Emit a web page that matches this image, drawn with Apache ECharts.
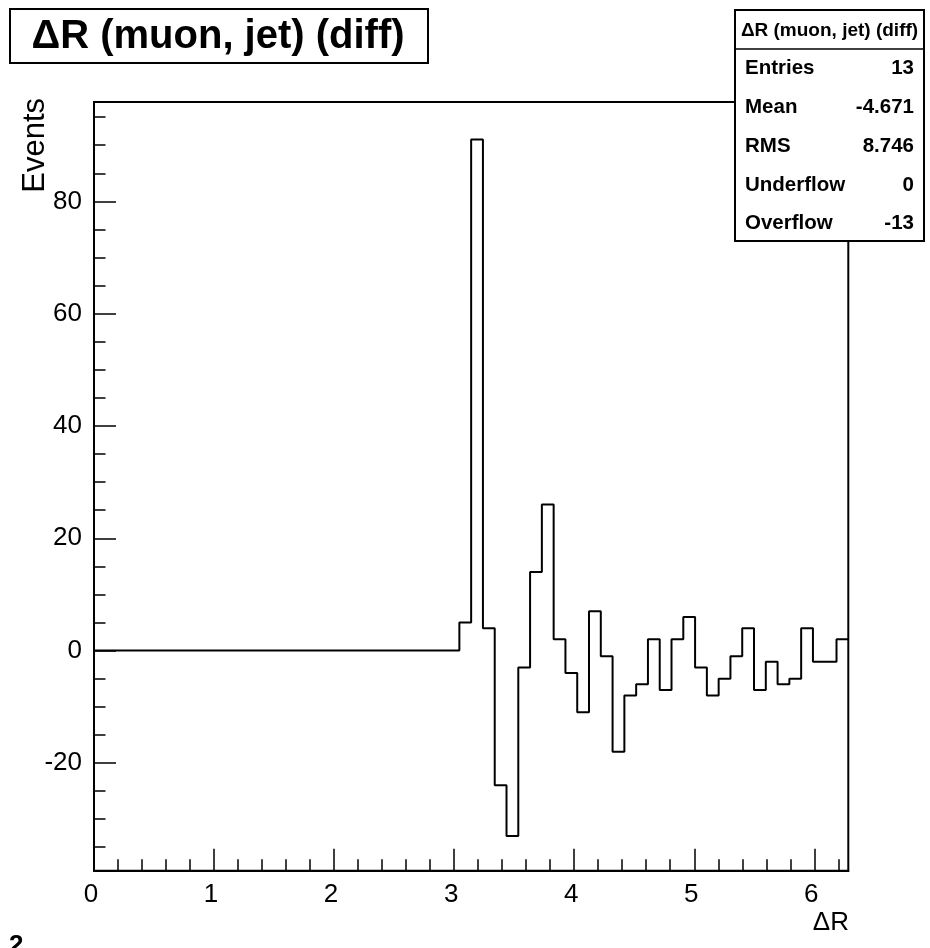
<!DOCTYPE html>
<html>
<head>
<meta charset="utf-8">
<script src="https://cdn.jsdelivr.net/npm/echarts@6/dist/echarts.min.js"></script>
<style>
  html, body { margin: 0; padding: 0; background: #ffffff; }
  #chart { width: 930px; height: 948px; }
</style>
</head>
<body>
<div id="chart"></div>
<script>
// histogram: 64 bins between 0 and 2*pi
var xMin = 0
var xMax = 2 * Math.PI
var binValues = [
  0, 0, 0, 0, 0, 0, 0, 0, 0, 0,
  0, 0, 0, 0, 0, 0, 0, 0, 0, 0,
  0, 0, 0, 0, 0, 0, 0, 0, 0, 0,
  0, 5, 91, 4, -24, -33, -3, 14, 26, 2,
  -4, -11, 7, -1, -18, -8, -6, 2, -7, 2,
  6, -3, -8, -5, -1, 4, -7, -2, -6, -5,
  4, -2, -2, 2
]
var yMin = -39.2
var yMax = 97.7

// tick labels
var xMajorTicks = [0, 1, 2, 3, 4, 5, 6]
var xMinorTicks = [0.2, 0.4, 0.6, 0.8, 1.2, 1.4, 1.6, 1.8, 2.2, 2.4, 2.6, 2.8,
  3.2, 3.4, 3.6, 3.8, 4.2, 4.4, 4.6, 4.8, 5.2, 5.4, 5.6, 5.8, 6.2]
var yMajorTicks = [-20, 0, 20, 40, 60, 80]
var yMinorTicks = [-35, -30, -25, -15, -10, -5, 5, 10, 15, 25, 30, 35,
  45, 50, 55, 65, 70, 75, 85, 90, 95]

// stats box
var histTitle = '\u0394R (muon, jet) (diff)'
var statNames = ['Entries', 'Mean', 'RMS', 'Underflow', 'Overflow']
var statValues = ['13', '-4.671', '8.746', '0', '-13']

var font = "'Liberation Sans', Arial, Helvetica, sans-serif"

// bin left edges -> step points
var binWidth = (xMax - xMin) / binValues.length
var points = binValues.map(function (v, i) {
  return [xMin + i * binWidth, v]
})
points.push([xMax, binValues[binValues.length - 1]])

var myChart = echarts.init(document.getElementById('chart'), null, { renderer: 'canvas' })

// stats rows
var statsChildren = [
  {
    type: 'rect',
    shape: { x: 735, y: 10, width: 189, height: 231 },
    style: { fill: '#ffffff', stroke: '#000000', lineWidth: 2 }
  },
  {
    type: 'line',
    shape: { x1: 735, y1: 49, x2: 924, y2: 49 },
    style: { stroke: '#000000', lineWidth: 1.5 }
  },
  {
    type: 'text',
    x: 829.5, y: 31,
    style: {
      text: histTitle, fontFamily: font, fontWeight: 'bold', fontSize: 19,
      fill: '#000000', align: 'center', verticalAlign: 'middle'
    }
  }
]
var rowY = [68, 107, 146, 185, 223]
statNames.forEach(function (name, i) {
  statsChildren.push({
    type: 'text',
    x: 745, y: rowY[i],
    style: {
      text: name, fontFamily: font, fontWeight: 'bold', fontSize: 20.5,
      fill: '#000000', align: 'left', verticalAlign: 'middle'
    }
  })
  statsChildren.push({
    type: 'text',
    x: 914, y: rowY[i],
    style: {
      text: statValues[i], fontFamily: font, fontWeight: 'bold', fontSize: 20.5,
      fill: '#000000', align: 'right', verticalAlign: 'middle'
    }
  })
})

var option = {
  animation: false,
  backgroundColor: '#ffffff',
  grid: {
    left: 94,
    right: 81.7,
    top: 102,
    bottom: 77.3,
    show: true,
    borderColor: '#000000',
    borderWidth: 2,
    backgroundColor: 'transparent'
  },
  xAxis: [
    {
      type: 'value',
      min: xMin,
      max: xMax,
      position: 'bottom',
      splitLine: { show: false },
      axisLine: { show: true, onZero: false, lineStyle: { color: '#000000', width: 2 } },
      axisTick: {
        show: true,
        inside: true,
        length: 22,
        customValues: xMajorTicks,
        lineStyle: { color: '#000000', width: 1.5 }
      },
      axisLabel: {
        show: true,
        customValues: xMajorTicks,
        margin: 11,
        padding: [0, 6, 0, 0],
        fontSize: 26,
        fontFamily: font,
        color: '#000000'
      }
    },
    {
      type: 'value',
      min: xMin,
      max: xMax,
      position: 'bottom',
      splitLine: { show: false },
      axisLine: { show: false, onZero: false },
      axisLabel: { show: false },
      axisTick: {
        show: true,
        inside: true,
        length: 11.5,
        customValues: xMinorTicks,
        lineStyle: { color: '#000000', width: 1.5 }
      }
    }
  ],
  yAxis: [
    {
      type: 'value',
      min: yMin,
      max: yMax,
      position: 'left',
      splitLine: { show: false },
      axisLine: { show: true, onZero: false, lineStyle: { color: '#000000', width: 2 } },
      axisTick: {
        show: true,
        inside: true,
        length: 22,
        customValues: yMajorTicks,
        lineStyle: { color: '#000000', width: 1.5 }
      },
      axisLabel: {
        show: true,
        customValues: yMajorTicks,
        margin: 12,
        fontSize: 26,
        fontFamily: font,
        color: '#000000'
      }
    },
    {
      type: 'value',
      min: yMin,
      max: yMax,
      position: 'left',
      splitLine: { show: false },
      axisLine: { show: false, onZero: false },
      axisLabel: { show: false },
      axisTick: {
        show: true,
        inside: true,
        length: 11.5,
        customValues: yMinorTicks,
        lineStyle: { color: '#000000', width: 1.5 }
      }
    }
  ],
  series: [
    {
      name: histTitle,
      type: 'line',
      step: 'end',
      xAxisIndex: 0,
      yAxisIndex: 0,
      showSymbol: false,
      symbol: 'none',
      lineStyle: { color: '#000000', width: 2 },
      data: points
    }
  ],
  graphic: [
    // title box
    {
      type: 'group',
      z: 100,
      children: [
        {
          type: 'rect',
          shape: { x: 10, y: 9, width: 418, height: 54 },
          style: { fill: '#ffffff', stroke: '#000000', lineWidth: 2 }
        },
        {
          type: 'text',
          x: 218, y: 37,
          style: {
            text: histTitle, fontFamily: font, fontWeight: 'bold', fontSize: 40,
            fill: '#000000', align: 'center', verticalAlign: 'middle'
          }
        }
      ]
    },
    // stats box
    { type: 'group', z: 100, children: statsChildren },
    // axis titles
    {
      type: 'text',
      z: 100,
      x: 35, y: 98,
      rotation: Math.PI / 2,
      style: {
        text: 'Events', fontFamily: font, fontSize: 31,
        fill: '#000000', align: 'right', verticalAlign: 'middle'
      }
    },
    {
      type: 'text',
      z: 100,
      x: 849, y: 923,
      style: {
        text: '\u0394R', fontFamily: font, fontSize: 26,
        fill: '#000000', align: 'right', verticalAlign: 'middle'
      }
    },
    // cut-off label at the bottom edge
    {
      type: 'text',
      z: 100,
      x: 9, y: 933,
      style: {
        text: '2', fontFamily: font, fontWeight: 'bold', fontSize: 26,
        fill: '#000000', align: 'left', verticalAlign: 'top'
      }
    }
  ]
}

myChart.setOption(option)
</script>
</body>
</html>
